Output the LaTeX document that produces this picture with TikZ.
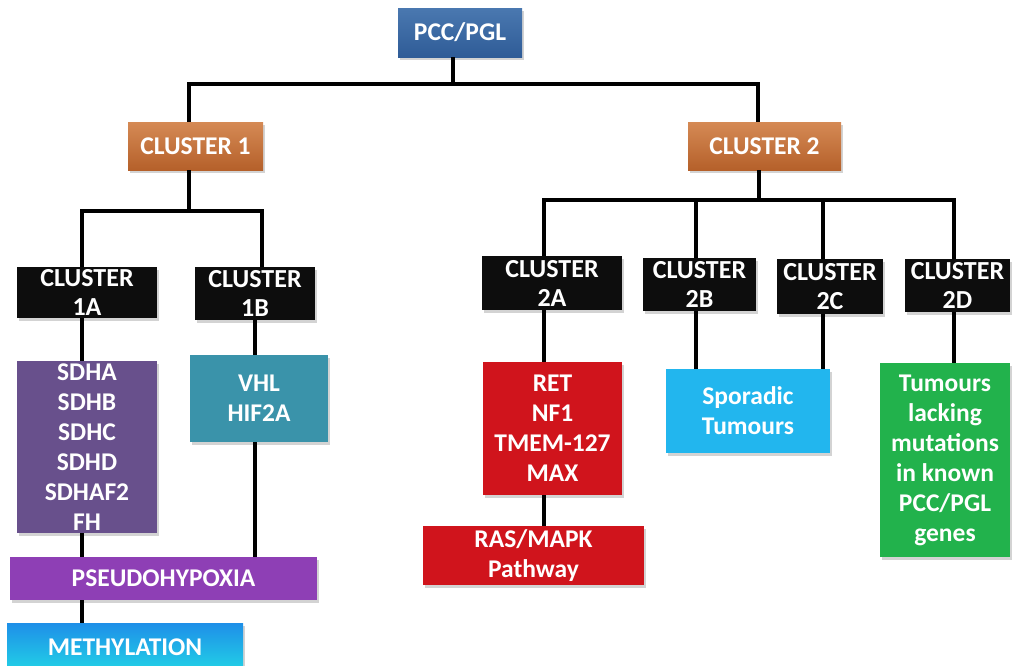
\documentclass[tikz,border=0pt]{standalone}
\usepackage{fontspec}
\setmainfont{Carlito}
\usetikzlibrary{shadows}
\definecolor{pccblue}{HTML}{2F5C97}
\definecolor{pcctop}{HTML}{4A78B0}
\definecolor{orgtop}{HTML}{D58A55}
\definecolor{orgbot}{HTML}{B5602A}
\definecolor{sdhpurple}{HTML}{68508C}
\definecolor{vhlteal}{HTML}{3A93AA}
\definecolor{pseudopurple}{HTML}{8E3FB5}
\definecolor{methtop}{HTML}{1E8FE8}
\definecolor{methbot}{HTML}{22D3E6}
\definecolor{redbox}{HTML}{D0141C}
\definecolor{sporblue}{HTML}{22B6EE}
\definecolor{greenbox}{HTML}{22B24C}
\tikzset{
  box/.style={rectangle, inner sep=0pt, align=center, text=white,
    font=\fontsize{25.5}{30}\selectfont\bfseries,
    drop shadow={shadow xshift=2pt, shadow yshift=-2.5pt, opacity=0.35}},
  blk/.style={box, fill=black!95, font=\fontsize{26}{29}\selectfont\bfseries},
  org/.style={box, top color=orgtop, bottom color=orgbot, font=\fontsize{25.5}{28}\selectfont\bfseries},
  conn/.style={line width=3.2pt, draw=black}
}
\begin{document}
\begin{tikzpicture}[x=1pt,y=-1pt]
\useasboundingbox (0,0) rectangle (1012,665);
\clip (0,0) rectangle (1012,665);
% junction coordinates
\coordinate (t0) at (453,84);
\coordinate (t1) at (189,84);
\coordinate (t2) at (758,84);
\coordinate (u0) at (189,211);
\coordinate (u1) at (82,211);
\coordinate (u2) at (262,211);
\coordinate (v0) at (759,200);
\coordinate (v1) at (544,200);
\coordinate (v2) at (696,200);
\coordinate (v3) at (823,200);
\coordinate (v4) at (954,200);
\coordinate (w1) at (255,0);
% nodes
\node[box, top color=pcctop, bottom color=pccblue, minimum width=124, minimum height=49] (pcc) at (460,32.5) {PCC/PGL};
\node[org, minimum width=135, minimum height=48] (c1) at (195.5,146) {CLUSTER 1};
\node[org, minimum width=153, minimum height=48] (c2) at (764.5,146) {CLUSTER 2};
\node[blk, minimum width=140, minimum height=51] (a1) at (87,292.5) {CLUSTER\\1A};
\node[blk, minimum width=120, minimum height=53] (b1) at (255,293.5) {CLUSTER\\1B};
\node[blk, minimum width=140, minimum height=54] (a2) at (552,283) {CLUSTER\\2A};
\node[blk, minimum width=113, minimum height=53] (b2) at (699.5,284.5) {CLUSTER\\2B};
\node[blk, minimum width=106, minimum height=55] (cc2) at (830,286.5) {CLUSTER\\2C};
\node[blk, minimum width=105, minimum height=53] (d2) at (957.5,285.5) {CLUSTER\\2D};
\node[box, fill=sdhpurple, minimum width=140, minimum height=172] (sdh) at (87,447) {SDHA\\SDHB\\SDHC\\SDHD\\SDHAF2\\FH};
\node[box, fill=vhlteal, minimum width=138, minimum height=87] (vhl) at (259,398.5) {VHL\\HIF2A};
\node[box, fill=pseudopurple, minimum width=307, minimum height=43] (pseudo) at (163.5,578.5) {PSEUDOHYPOXIA};
\node[box, top color=methtop, bottom color=methbot, minimum width=236, minimum height=49] (meth) at (125,647.5) {METHYLATION};
\node[box, fill=redbox, minimum width=139, minimum height=133] (ret) at (552.5,428.5) {RET\\NF1\\TMEM-127\\MAX};
\node[box, fill=redbox, minimum width=221, minimum height=59] (ras) at (533.5,555.5) {RAS/MAPK\\Pathway};
\node[box, fill=sporblue, minimum width=164, minimum height=84] (spor) at (748,411) {Sporadic\\Tumours};
\node[box, fill=greenbox, minimum width=130, minimum height=194] (grn) at (945,460) {Tumours\\lacking\\mutations\\in known\\PCC/PGL\\genes};
% connectors
\draw[conn] (pcc.south -| t0) -- (t0);
\draw[conn] (c1.north -| t1) -- (t1) -- (t2) -- (c2.north -| t2);
\draw[conn] (c1.south -| u0) -- (u0);
\draw[conn] (a1.north -| u1) -- (u1) -- (u2) -- (b1.north -| u2);
\draw[conn] (c2.south -| v0) -- (v0);
\draw[conn] (a2.north -| v1) -- (v1) -- (v4) -- (d2.north -| v4);
\draw[conn] (v2) -- (b2.north -| v2);
\draw[conn] (v3) -- (cc2.north -| v3);
\draw[conn] (a1.south -| u1) -- (sdh.north -| u1);
\draw[conn] (b1.south -| w1) -- (vhl.north -| w1);
\draw[conn] (sdh.south -| u1) -- (pseudo.north -| u1);
\draw[conn] (vhl.south -| w1) -- (pseudo.north -| w1);
\draw[conn] (pseudo.south -| u1) -- (meth.north -| u1);
\draw[conn] (a2.south -| v1) -- (ret.north -| v1);
\draw[conn] (ret.south -| v1) -- (ras.north -| v1);
\draw[conn] (b2.south -| v2) -- (spor.north -| v2);
\draw[conn] (cc2.south -| v3) -- (spor.north -| v3);
\draw[conn] (d2.south -| v4) -- (grn.north -| v4);
\end{tikzpicture}
\end{document}
